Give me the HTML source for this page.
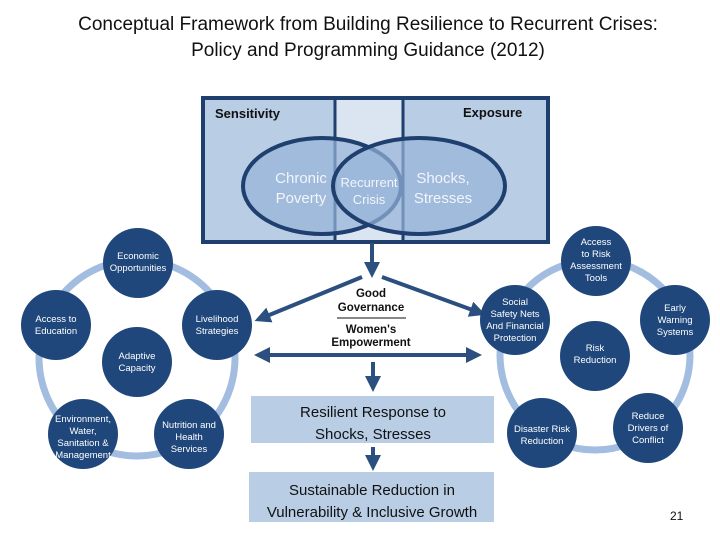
<!DOCTYPE html>
<html><head><meta charset="utf-8"><style>
body{margin:0;width:720px;height:540px;background:#fff;overflow:hidden}
svg text{font-family:"Liberation Sans",sans-serif}
</style></head><body>
<svg width="720" height="540" viewBox="0 0 720 540">
<defs><marker id="a" markerWidth="4" markerHeight="4" refX="2" refY="2" orient="auto" markerUnits="strokeWidth"><path d="M0,0L4,2L0,4z" fill="#2b4f7e"/></marker></defs>
<text x="368" y="30" font-size="19" text-anchor="middle" fill="#111">Conceptual Framework from Building Resilience to Recurrent Crises:</text>
<text x="368" y="56" font-size="19" text-anchor="middle" fill="#111">Policy and Programming Guidance (2012)</text>
<!-- top box -->
<rect x="203" y="98" width="345" height="144" fill="#b9cde5" stroke="#1f3f6e" stroke-width="4"/>
<rect x="335" y="100" width="68" height="140" fill="#dbe5f1"/>
<line x1="335" y1="98" x2="335" y2="242" stroke="#1f3f6e" stroke-width="3"/>
<line x1="403" y1="98" x2="403" y2="242" stroke="#1f3f6e" stroke-width="3"/>
<ellipse cx="322" cy="186" rx="79" ry="48" fill="#95b3d7" fill-opacity="0.7" stroke="#1f3f6e" stroke-width="4"/>
<ellipse cx="419" cy="186" rx="86" ry="48" fill="#95b3d7" fill-opacity="0.7" stroke="#1f3f6e" stroke-width="4"/>
<text x="215" y="118" font-size="13" font-weight="bold" fill="#111">Sensitivity</text>
<text x="463" y="117" font-size="13" font-weight="bold" fill="#111">Exposure</text>
<g fill="#f2f5fa" font-size="15" text-anchor="middle">
<text x="301" y="183">Chronic</text><text x="301" y="203">Poverty</text>
<text x="443" y="183">Shocks,</text><text x="443" y="203">Stresses</text>
<text x="369" y="187" font-size="13">Recurrent</text><text x="369" y="204" font-size="13">Crisis</text>
</g>
<!-- arrows -->
<g stroke="#2b4f7e" stroke-width="4" fill="none">
<line x1="372" y1="243" x2="372" y2="270" marker-end="url(#a)"/>
<line x1="362" y1="277" x2="262" y2="318" marker-end="url(#a)"/>
<line x1="382" y1="277" x2="478" y2="312" marker-end="url(#a)"/>
<line x1="372" y1="355" x2="262" y2="355" marker-end="url(#a)"/>
<line x1="372" y1="355" x2="474" y2="355" marker-end="url(#a)"/>
<line x1="373" y1="362" x2="373" y2="384" marker-end="url(#a)"/>
<line x1="373" y1="447" x2="373" y2="463" marker-end="url(#a)"/>
</g>
<g font-size="11.5" font-weight="bold" text-anchor="middle" fill="#111">
<text x="371" y="297">Good</text><text x="371" y="311">Governance</text>
<text x="371" y="333">Women's</text><text x="371" y="346">Empowerment</text>
</g>
<line x1="337" y1="318" x2="406" y2="318" stroke="#111" stroke-width="1"/>
<rect x="251" y="396" width="243" height="47" fill="#b9cde5"/>
<rect x="249" y="472" width="245" height="50" fill="#b9cde5"/>
<g font-size="15" text-anchor="middle" fill="#111">
<text x="373" y="417">Resilient Response to</text><text x="373" y="439">Shocks, Stresses</text>
<text x="372" y="495">Sustainable Reduction in</text><text x="372" y="517">Vulnerability &amp; Inclusive Growth</text>
</g>
<!-- left cluster -->
<circle cx="137" cy="358" r="98" fill="none" stroke="#a3bde0" stroke-width="7"/>
<g fill="#1f477b">
<circle cx="138" cy="263" r="35"/><circle cx="56" cy="325" r="35"/><circle cx="217" cy="325" r="35"/>
<circle cx="137" cy="362" r="35"/><circle cx="83" cy="434" r="35"/><circle cx="189" cy="434" r="35"/>
</g>
<g fill="#fff" font-size="9.5" text-anchor="middle">
<text x="138" y="259">Economic</text><text x="138" y="271">Opportunities</text>
<text x="56" y="322">Access to</text><text x="56" y="334">Education</text>
<text x="217" y="322">Livelihood</text><text x="217" y="334">Strategies</text>
<text x="137" y="359">Adaptive</text><text x="137" y="371">Capacity</text>
<text x="83" y="422">Environment,</text><text x="83" y="434">Water,</text><text x="83" y="446">Sanitation &amp;</text><text x="83" y="458">Management</text>
<text x="189" y="428">Nutrition and</text><text x="189" y="440">Health</text><text x="189" y="452">Services</text>
</g>
<!-- right cluster -->
<circle cx="595" cy="355" r="95" fill="none" stroke="#a3bde0" stroke-width="7"/>
<g fill="#1f477b">
<circle cx="596" cy="261" r="35"/><circle cx="515" cy="320" r="35"/><circle cx="675" cy="320" r="35"/>
<circle cx="595" cy="356" r="35"/><circle cx="542" cy="433" r="35"/><circle cx="648" cy="428" r="35"/>
</g>
<g fill="#fff" font-size="9.5" text-anchor="middle">
<text x="596" y="245">Access</text><text x="596" y="257">to Risk</text><text x="596" y="269">Assessment</text><text x="596" y="281">Tools</text>
<text x="515" y="305">Social</text><text x="515" y="317">Safety Nets</text><text x="515" y="329">And Financial</text><text x="515" y="341">Protection</text>
<text x="675" y="311">Early</text><text x="675" y="323">Warning</text><text x="675" y="335">Systems</text>
<text x="595" y="351">Risk</text><text x="595" y="363">Reduction</text>
<text x="542" y="432">Disaster Risk</text><text x="542" y="444">Reduction</text>
<text x="648" y="419">Reduce</text><text x="648" y="431">Drivers of</text><text x="648" y="443">Conflict</text>
</g>
<text x="670" y="520" font-size="12" fill="#111">21</text>
</svg>
</body></html>
